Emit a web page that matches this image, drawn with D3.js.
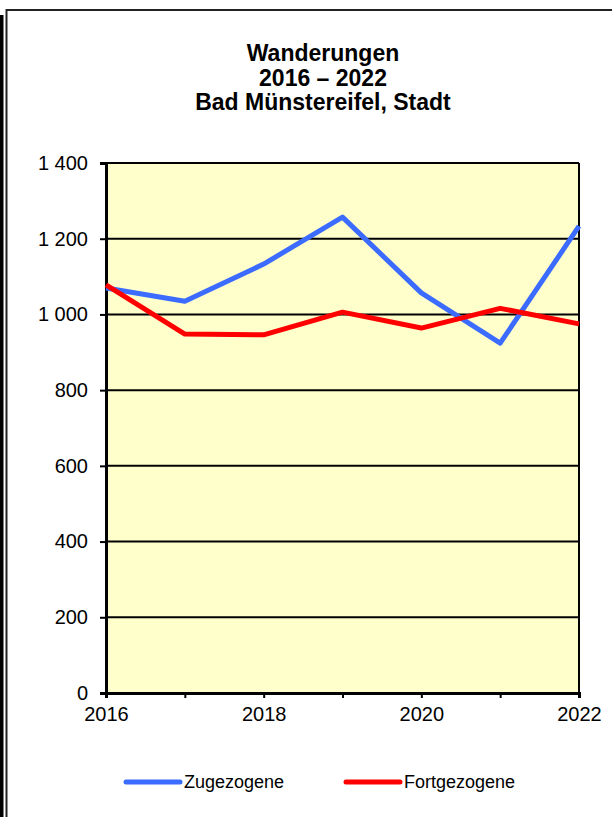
<!DOCTYPE html>
<html>
<head>
<meta charset="utf-8">
<script src="https://cdn.jsdelivr.net/npm/d3@7"></script>
<style>
  body { margin: 0; background: #fff; }
  svg { display: block; font-family: "Liberation Sans", Arial, sans-serif; }
</style>
</head>
<body>
<div id="graph"></div>
<script>
// daten
const years = [2016, 2017, 2018, 2019, 2020, 2021, 2022];
const zugezogene = [1070, 1035, 1133, 1257, 1057, 924, 1233];
const fortgezogene = [1078, 948, 946, 1006, 964, 1016, 975];
const yTicks = [0, 200, 400, 600, 800, 1000, 1200, 1400];
const xLabels = [2016, 2018, 2020, 2022];
const titleLines = ["Wanderungen", "2016 – 2022", "Bad Münstereifel, Stadt"];
const seriesNames = ["Zugezogene", "Fortgezogene"];

const w = 612, h = 817;
const pLeft = 106, pRight = 579, pTop = 163, pBottom = 693;

const svg = d3.select("#graph").append("svg")
  .attr("width", w)
  .attr("height", h);

// rahmen links / oben
svg.append("rect").attr("x", 0).attr("y", 15).attr("width", 3.5).attr("height", h - 15).attr("fill", "#000");
svg.append("path")
  .attr("d", `M6.5,${h} V10 H${w}`)
  .attr("fill", "none").attr("stroke", "#222").attr("stroke-width", 2);

const x = d3.scaleLinear().domain([2016, 2022]).range([pLeft, pRight]);
const y = d3.scaleLinear().domain([0, 1400]).range([pBottom, pTop]);

// plotfläche
svg.append("rect")
  .attr("x", pLeft).attr("y", pTop)
  .attr("width", pRight - pLeft).attr("height", pBottom - pTop)
  .attr("fill", "#ffffcc");

// gitter
svg.append("g")
  .selectAll("line")
  .data(yTicks.filter(d => d > 0))
  .enter().append("line")
  .attr("x1", pLeft).attr("x2", pRight)
  .attr("y1", d => y(d)).attr("y2", d => y(d))
  .attr("stroke", "#000").attr("stroke-width", 2);

// rechte kante
svg.append("line")
  .attr("x1", pRight).attr("x2", pRight).attr("y1", pTop).attr("y2", pBottom)
  .attr("stroke", "#000").attr("stroke-width", 2);

// y-achse
const fmt = d => d3.format(",")(d).replace(/,/g, " ");
const yAxis = svg.append("g")
  .attr("transform", `translate(${pLeft},0)`)
  .call(d3.axisLeft(y).tickValues(yTicks).tickSize(6).tickPadding(12).tickFormat(fmt));
yAxis.select(".domain").attr("stroke", "#000").attr("stroke-width", 3);
yAxis.selectAll(".tick line").attr("stroke", "#000").attr("stroke-width", 2);
yAxis.selectAll("text")
  .style("font-size", "20px")
  .style("font-family", "Liberation Sans, Arial, sans-serif")
  .attr("fill", "#000");

// x-achse
const xAxis = svg.append("g")
  .attr("transform", `translate(0,${pBottom})`)
  .call(d3.axisBottom(x).tickValues(years).tickSize(5).tickFormat(d => xLabels.includes(d) ? d : ""));
xAxis.select(".domain").attr("stroke", "#000").attr("stroke-width", 3);
xAxis.selectAll(".tick line").attr("stroke", "#000").attr("stroke-width", 2);
xAxis.selectAll("text")
  .attr("y", 14)
  .style("font-size", "20px")
  .style("font-family", "Liberation Sans, Arial, sans-serif")
  .attr("fill", "#000");

// linien
const line = d3.line()
  .x((d, i) => x(years[i]))
  .y(d => y(d));

const colors = ["#3b6bff", "#ff0000"];
[zugezogene, fortgezogene].forEach((s, k) => {
  svg.append("path")
    .datum(s)
    .attr("d", line)
    .attr("fill", "none")
    .attr("stroke", colors[k])
    .attr("stroke-width", 5)
    .attr("stroke-linejoin", "round");
});

// titel
svg.append("text")
  .attr("x", 323)
  .attr("text-anchor", "middle")
  .style("font-size", "23px")
  .style("font-weight", "bold")
  .selectAll("tspan")
  .data(titleLines)
  .enter().append("tspan")
  .attr("x", 323)
  .attr("y", (d, i) => 61 + i * 24.5)
  .text(d => d);

// legende
const legX = [126, 346];
seriesNames.forEach((name, k) => {
  svg.append("line")
    .attr("x1", legX[k]).attr("x2", legX[k] + 54)
    .attr("y1", 782).attr("y2", 782)
    .attr("stroke", colors[k]).attr("stroke-width", 5)
    .attr("stroke-linecap", "round");
  svg.append("text")
    .attr("x", legX[k] + 58)
    .attr("y", 788)
    .style("font-size", "18px")
    .text(name);
});
</script>
</body>
</html>
